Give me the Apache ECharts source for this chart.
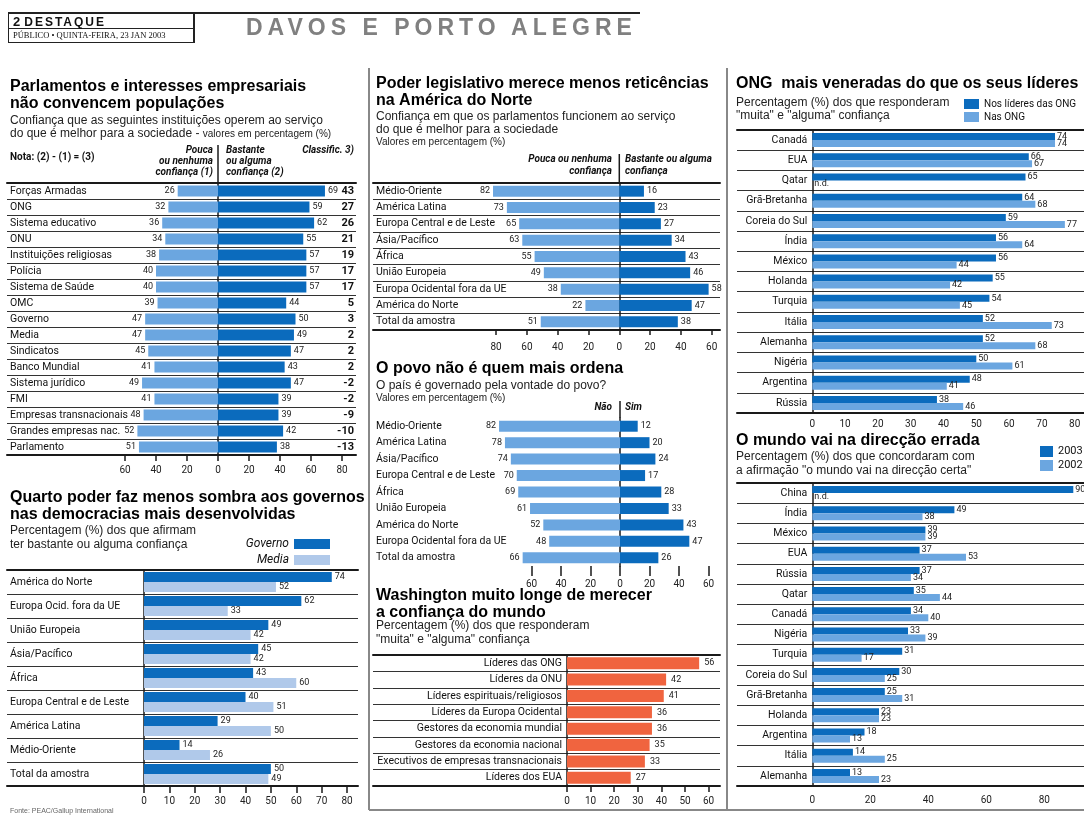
<!DOCTYPE html>
<html>
<head>
<meta charset="utf-8">
<script src="https://cdn.jsdelivr.net/npm/echarts@6/dist/echarts.min.js"></script>
<style>
html, body { margin: 0; padding: 0; background: #fff; }
#wrap { position: relative; width: 1084px; height: 816px; }
#main { position: absolute; left: 0; top: 0; width: 1084px; height: 816px; }
#rule { position: absolute; left: 8px; top: 12px; width: 632px; height: 2px; background: #222; }
#box { position: absolute; left: 8px; top: 14px; width: 184px; height: 28px; border-left: 1px solid #222; border-right: 2px solid #222; border-bottom: 1px solid #222; }
#r1 { height: 14px; border-bottom: 1px solid #222; font: bold 12px "Liberation Sans", Arial, sans-serif; letter-spacing: 2px; padding-left: 4px; line-height: 15px; color: #111; }
#r1 b { font-size: 13px; letter-spacing: 4px; }
#r2 { font: 8.5px "Liberation Serif", serif; line-height: 13px; padding-left: 4px; color: #111; }
#davos { position: absolute; left: 246px; top: 13px; font: bold 23px "Liberation Sans", Arial, sans-serif; color: #808080; letter-spacing: 5px; line-height: 28px; }
</style>
</head>
<body>
<div id="wrap">
  <div id="main"></div>
  <div id="rule"></div>
  <div id="box"><div id="r1"><b>2</b>DESTAQUE</div><div id="r2">PÚBLICO • QUINTA-FEIRA, 23 JAN 2003</div></div>
  <div id="davos">DAVOS E PORTO ALEGRE</div>
</div>
<script>
var chart = echarts.init(document.getElementById('main'));

// --- dados ---
var instCats = ['Forças Armadas', 'ONG', 'Sistema educativo', 'ONU', 'Instituições religiosas', 'Polícia',
    'Sistema de Saúde', 'OMC', 'Governo', 'Media', 'Sindicatos', 'Banco Mundial', 'Sistema jurídico', 'FMI',
    'Empresas transnacionais', 'Grandes empresas nac.', 'Parlamento'];
var instPouca = [26, 32, 36, 34, 38, 40, 40, 39, 47, 47, 45, 41, 49, 41, 48, 52, 51];
var instBastante = [69, 59, 62, 55, 57, 57, 57, 44, 50, 49, 47, 43, 47, 39, 39, 42, 38];
var instClassif = [43, 27, 26, 21, 19, 17, 17, 5, 3, 2, 2, 2, -2, -2, -9, -10, -13];
var instTicks = [-60, -40, -20, 0, 20, 40, 60, 80];

var regCats = ['América do Norte', 'Europa Ocid. fora da UE', 'União Europeia', 'Ásia/Pacífico', 'África',
    'Europa Central e de Leste', 'América Latina', 'Médio-Oriente', 'Total da amostra'];
var govValues = [74, 62, 49, 45, 43, 40, 29, 14, 50];
var mediaValues = [52, 33, 42, 42, 60, 51, 50, 26, 49];
var govTicks = [0, 10, 20, 30, 40, 50, 60, 70, 80];

var parlCats = ['Médio-Oriente', 'América Latina', 'Europa Central e de Leste', 'Ásia/Pacífico', 'África',
    'União Europeia', 'Europa Ocidental fora da UE', 'América do Norte', 'Total da amostra'];
var parlPouca = [82, 73, 65, 63, 55, 49, 38, 22, 51];
var parlBastante = [16, 23, 27, 34, 43, 46, 58, 47, 38];
var parlTicks = [-80, -60, -40, -20, 0, 20, 40, 60];

var povoCats = ['Médio-Oriente', 'América Latina', 'Ásia/Pacífico', 'Europa Central e de Leste', 'África',
    'União Europeia', 'América do Norte', 'Europa Ocidental fora da UE', 'Total da amostra'];
var povoNao = [82, 78, 74, 70, 69, 61, 52, 48, 66];
var povoSim = [12, 20, 24, 17, 28, 33, 43, 47, 26];
var povoTicks = [-60, -40, -20, 0, 20, 40, 60];

var washCats = ['Líderes das ONG', 'Líderes da ONU', 'Líderes espirituais/religiosos', 'Líderes da Europa Ocidental',
    'Gestores da economia mundial', 'Gestores da economia nacional', 'Executivos de empresas transnacionais', 'Líderes dos EUA'];
var washValues = [56, 42, 41, 36, 36, 35, 33, 27];
var washTicks = [0, 10, 20, 30, 40, 50, 60];

var ongCats = ['Canadá', 'EUA', 'Qatar', 'Grã-Bretanha', 'Coreia do Sul', 'Índia', 'México', 'Holanda',
    'Turquia', 'Itália', 'Alemanha', 'Nigéria', 'Argentina', 'Rússia'];
var ongLideres = [74, 66, 65, 64, 59, 56, 56, 55, 54, 52, 52, 50, 48, 38];
var ongOng = [74, 67, null, 68, 77, 64, 44, 42, 45, 73, 68, 61, 41, 46];
var ongTicks = [0, 10, 20, 30, 40, 50, 60, 70, 80];

var mundoCats = ['China', 'Índia', 'México', 'EUA', 'Rússia', 'Qatar', 'Canadá', 'Nigéria', 'Turquia',
    'Coreia do Sul', 'Grã-Bretanha', 'Holanda', 'Argentina', 'Itália', 'Alemanha'];
var mundo2003 = [90, 49, 39, 37, 37, 35, 34, 33, 31, 30, 25, 23, 18, 14, 13];
var mundo2002 = [null, 38, 39, 53, 34, 44, 40, 39, 17, 25, 31, 23, 13, 25, 23];
var mundoTicks = [0, 20, 40, 60, 80];

// --- estilos ---
var NARROW = 'Roboto,sans-serif';
var SANS = '"Liberation Sans",Arial,sans-serif';
var DARK = '#0b6bbd';
var LIGHT = '#6ba6e0';
var PALE = '#b0c9ea';
var ORANGE = '#f0643f';
var INK = '#1a1a1a';

var grids = [], xAxes = [], yAxes = [], series = [], legends = [], els = [];

function neg(v) { return -v; }
function absFmt(v) { return Math.abs(v); }
function withNd(v) {
    return v == null ? {value: 0, label: {formatter: 'n.d.'}} : v;
}

// uma grelha = um grafico; x em pixeis convertido em min/max
function panel(p) {
    var gi = grids.length;
    grids.push({left: p.x0, top: p.y0, width: p.x1 - p.x0, height: p.y1 - p.y0,
        containLabel: false, outerBoundsMode: 'none'});
    var min = (p.x0 - p.zero) / p.ppu;
    var max = (p.x1 - p.zero) / p.ppu;
    var xi = xAxes.length;
    xAxes.push({
        type: 'value', gridIndex: gi, min: min, max: max, position: 'bottom',
        splitLine: {show: false},
        axisLine: {show: p.axisLine !== false, onZero: false, lineStyle: {color: INK, width: 2}},
        axisTick: {show: !!p.tickLen, length: p.tickLen || 0, customValues: p.ticks, lineStyle: {color: INK, width: 1.5}},
        axisLabel: {customValues: p.ticks, formatter: absFmt, fontFamily: NARROW, fontSize: 10, color: '#222', margin: p.labelMargin}
    });
    if (p.topLine) {
        xAxes.push({
            type: 'value', gridIndex: gi, min: min, max: max, position: 'top',
            splitLine: {show: false}, axisTick: {show: false}, axisLabel: {show: false},
            axisLine: {show: true, onZero: false, lineStyle: {color: INK, width: 2}}
        });
    }
    // rotulos das categorias: medidos a partir da margem esquerda da grelha
    var lab = {fontFamily: NARROW, fontSize: 10.5, color: '#111', inside: true};
    if (p.labelLeft != null) {
        lab.align = 'left';
        lab.margin = p.labelLeft - p.x0;
    } else {
        lab.align = 'right';
        lab.margin = p.zero - 5 - p.x0;
    }
    var yi = yAxes.length;
    yAxes.push({
        type: 'category', gridIndex: gi, data: p.cats, inverse: true,
        axisLine: {show: true, onZero: true, lineStyle: {color: INK, width: 1.5}},
        axisTick: {show: false},
        axisLabel: lab,
        splitLine: {show: !!p.rowLines, interval: 0, lineStyle: {color: '#333', width: 1}}
    });
    return {g: gi, x: xi, y: yi};
}

function addBar(ax, name, data, color, o) {
    series.push({
        type: 'bar', name: name, xAxisIndex: ax.x, yAxisIndex: ax.y, data: data,
        barWidth: o.w, barGap: o.gap, itemStyle: {color: color},
        label: {
            show: true, position: o.pos || 'right', distance: o.dist || 3,
            formatter: function (p) { return Math.abs(p.value); },
            fontFamily: NARROW, fontSize: 9, color: '#222'
        },
        silent: true, animation: false
    });
}

function text(x, y, str, o) {
    o = o || {};
    els.push({
        type: 'text', x: x, y: y, silent: true, z: 10,
        style: {
            text: str, fill: o.color || '#111', fontSize: o.size || 12, fontFamily: o.family || SANS,
            fontWeight: o.weight || 'normal', fontStyle: o.italic ? 'italic' : 'normal',
            align: o.align || 'left', verticalAlign: o.va || 'top', rich: o.rich
        }
    });
}
function line(x1, y1, x2, y2, w, c) {
    els.push({type: 'line', silent: true, z: 10, shape: {x1: x1, y1: y1, x2: x2, y2: y2},
        style: {stroke: c || INK, lineWidth: w || 1}});
}
var TITLE = {size: 16, weight: 'bold', color: '#000'};
var SUB = {size: 12, color: '#222'};
var HEAD = {family: NARROW, size: 10, weight: 'bold', italic: true, va: 'middle'};
function hr(o) { var r = {}; for (var k in o) r[k] = o[k]; return r; }

// --- 1. Parlamentos e interesses empresariais ---
text(10, 79, 'Parlamentos e interesses empresariais', TITLE);
text(10, 96, 'não convencem populações', TITLE);
text(10, 115, 'Confiança que as seguintes instituições operem ao serviço', SUB);
text(10, 128, '{a|do que é melhor para a sociedade - }{b|valores em percentagem (%)}', {
    rich: {a: {fontSize: 12, fontFamily: SANS, fill: '#222'}, b: {fontSize: 10, fontFamily: SANS, fill: '#222'}}
});
text(10, 157, 'Nota: (2) - (1) = (3)', {family: NARROW, size: 10, weight: 'bold', va: 'middle'});
var hR = hr(HEAD); hR.align = 'right';
text(213, 150, 'Pouca', hR);
text(213, 161, 'ou nenhuma', hR);
text(213, 172, 'confiança (1)', hR);
text(226, 150, 'Bastante', HEAD);
text(226, 161, 'ou alguma', HEAD);
text(226, 172, 'confiança (2)', HEAD);
text(354, 150, 'Classific. 3)', hR);
line(218, 145, 218, 183, 1.5);

var a1 = panel({x0: 7, x1: 356, y0: 183, y1: 455, zero: 218, ppu: 1.55, cats: instCats, ticks: instTicks,
    tickLen: 6, labelMargin: 10, topLine: true, rowLines: true, labelLeft: 10});
addBar(a1, 'Pouca ou nenhuma confiança (1)', instPouca.map(neg), LIGHT, {w: 11, gap: '-100%', pos: 'left'});
addBar(a1, 'Bastante ou alguma confiança (2)', instBastante, DARK, {w: 11, gap: '-100%'});
yAxes.push({
    type: 'category', gridIndex: a1.g, data: instCats, inverse: true, position: 'right',
    axisLine: {show: false, onZero: false}, axisTick: {show: false}, splitLine: {show: false},
    axisLabel: {inside: true, margin: 2, fontFamily: NARROW, fontWeight: 'bold', fontSize: 11, color: '#111',
        formatter: function (v, i) { return instClassif[i]; }}
});

// --- 2. Quarto poder ---
text(10, 490, 'Quarto poder faz menos sombra aos governos', TITLE);
text(10, 507, 'nas democracias mais desenvolvidas', TITLE);
text(10, 525, 'Percentagem (%) dos que afirmam', SUB);
text(10, 539, 'ter bastante ou alguma confiança', SUB);
var a2 = panel({x0: 7, x1: 358, y0: 570, y1: 786, zero: 144, ppu: 2.5375, cats: regCats, ticks: govTicks,
    tickLen: 7, labelMargin: 10, topLine: true, rowLines: true, labelLeft: 10});
addBar(a2, 'Governo', govValues, DARK, {w: 10, gap: 0});
addBar(a2, 'Media', mediaValues, PALE, {w: 10, gap: 0});
legends.push({
    data: ['Governo', 'Media'], orient: 'vertical', align: 'right', right: 754, top: 538, padding: 0,
    itemWidth: 36, itemHeight: 10, itemGap: 4, icon: 'rect', selectedMode: false,
    textStyle: {fontFamily: NARROW, fontStyle: 'italic', fontSize: 12, color: '#111'}
});

// --- 3. Poder legislativo ---
text(376, 76, 'Poder legislativo merece menos reticências', TITLE);
text(376, 93, 'na América do Norte', TITLE);
text(376, 111, 'Confiança em que os parlamentos funcionem ao serviço', SUB);
text(376, 124, 'do que é melhor para a sociedade', SUB);
text(376, 137, 'Valores em percentagem (%)', {size: 10, color: '#222'});
text(612, 159, 'Pouca ou nenhuma', hR);
text(612, 171, 'confiança', hR);
text(625, 159, 'Bastante ou alguma', HEAD);
text(625, 171, 'confiança', HEAD);
line(619.3, 154, 619.3, 183, 1.5);
var a3 = panel({x0: 373, x1: 720, y0: 183, y1: 330, zero: 619.3, ppu: 1.54, cats: parlCats, ticks: parlTicks,
    tickLen: 5, labelMargin: 12, topLine: true, rowLines: true, labelLeft: 376});
addBar(a3, 'Pouca ou nenhuma confiança', parlPouca.map(neg), LIGHT, {w: 11, gap: '-100%', pos: 'left'});
addBar(a3, 'Bastante ou alguma confiança', parlBastante, DARK, {w: 11, gap: '-100%'});

// --- 4. O povo nao e quem mais ordena ---
text(376, 361, 'O povo não é quem mais ordena', TITLE);
text(376, 380, 'O país é governado pela vontade do povo?', SUB);
text(376, 393, 'Valores em percentagem (%)', {size: 10, color: '#222'});
text(612, 407, 'Não', hR);
text(625, 407, 'Sim', HEAD);
line(620, 401, 620, 418, 1.5);
var a4 = panel({x0: 373, x1: 720, y0: 418, y1: 566, zero: 620, ppu: 1.475, cats: povoCats, ticks: povoTicks,
    axisLine: false, tickLen: 10, labelMargin: 13, topLine: false, rowLines: false, labelLeft: 376});
addBar(a4, 'Não', povoNao.map(neg), LIGHT, {w: 11, gap: '-100%', pos: 'left'});
addBar(a4, 'Sim', povoSim, DARK, {w: 11, gap: '-100%'});

// --- 5. Washington ---
text(376, 588, 'Washington muito longe de merecer', TITLE);
text(376, 605, 'a confiança do mundo', TITLE);
text(376, 620, 'Percentagem (%) dos que responderam', SUB);
text(376, 634, '"muita" e "alguma" confiança', SUB);
var a5 = panel({x0: 373, x1: 720, y0: 655, y1: 786, zero: 567, ppu: 2.36, cats: washCats, ticks: washTicks,
    tickLen: 6, labelMargin: 10, topLine: true, rowLines: true});
addBar(a5, 'Confiança nos líderes', washValues, ORANGE, {w: 12, gap: 0, dist: 5});

// --- 6. ONG ---
text(736, 76, 'ONG  mais veneradas do que os seus líderes', TITLE);
text(736, 97, 'Percentagem (%) dos que responderam', SUB);
text(736, 110, '"muita" e "alguma" confiança', SUB);
var a6 = panel({x0: 737, x1: 1084, y0: 130, y1: 413, zero: 812.3, ppu: 3.28, cats: ongCats, ticks: ongTicks,
    tickLen: 0, labelMargin: 6, topLine: true, rowLines: true});
addBar(a6, 'Nos líderes das ONG', ongLideres, DARK, {w: 7, gap: 0, dist: 2});
addBar(a6, 'Nas ONG', ongOng.map(withNd), LIGHT, {w: 7, gap: 0, dist: 2});
legends.push({
    data: ['Nos líderes das ONG', 'Nas ONG'], orient: 'vertical', left: 964, top: 99, padding: 0,
    itemWidth: 15, itemHeight: 10, itemGap: 3, icon: 'rect', selectedMode: false,
    textStyle: {fontFamily: NARROW, fontSize: 10, color: '#111'}
});

// --- 7. O mundo vai na direccao errada ---
text(736, 433, 'O mundo vai na direcção errada', TITLE);
text(736, 451, 'Percentagem (%) dos que concordaram com', SUB);
text(736, 465, 'a afirmação "o mundo vai na direcção certa"', SUB);
var a7 = panel({x0: 737, x1: 1084, y0: 483, y1: 786, zero: 812.3, ppu: 2.9, cats: mundoCats, ticks: mundoTicks,
    tickLen: 0, labelMargin: 9, topLine: true, rowLines: true});
addBar(a7, '2003', mundo2003, DARK, {w: 7, gap: 0, dist: 2});
addBar(a7, '2002', mundo2002.map(withNd), LIGHT, {w: 7, gap: 0, dist: 2});
legends.push({
    data: ['2003', '2002'], orient: 'vertical', left: 1040, top: 446, padding: 0,
    itemWidth: 13, itemHeight: 11, itemGap: 3, icon: 'rect', selectedMode: false,
    textStyle: {fontFamily: NARROW, fontSize: 11, color: '#111'}
});

// molduras das colunas e fonte
line(369, 68, 369, 810, 2, '#888');
line(727, 68, 727, 810, 2, '#888');
line(369, 810, 1084, 810, 2, '#888');
text(10, 808, 'Fonte: PEAC/Gallup International', {size: 7, color: '#666'});

var option = {
    backgroundColor: '#fff',
    animation: false,
    textStyle: {fontFamily: NARROW},
    grid: grids,
    xAxis: xAxes,
    yAxis: yAxes,
    legend: legends,
    series: series,
    graphic: {elements: els}
};
chart.setOption(option);
</script>
</body>
</html>
